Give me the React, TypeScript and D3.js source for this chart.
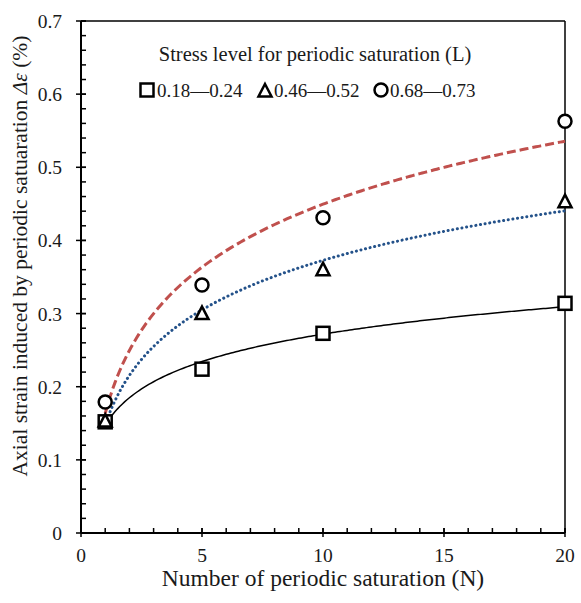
import React from "react";
import * as d3 from "d3";

// Periodic saturation counts and measured axial strain (%) for each stress level
const cycles = [1, 5, 10, 20];
const lowStress = [0.152, 0.224, 0.273, 0.314];
const midStress = [0.153, 0.3, 0.36, 0.453];
const highStress = [0.179, 0.339, 0.431, 0.563];
const seriesLabels = ["0.18\u20140.24", "0.46\u20140.52", "0.68\u20140.73"];

const xTicks = [0, 5, 10, 15, 20];
const yTicks = [0, 0.1, 0.2, 0.3, 0.4, 0.5, 0.6, 0.7];

const W = 581;
const H = 603;
const margin = { left: 81, right: 16, top: 21, bottom: 70 };
const FONT = "'Liberation Serif', 'Times New Roman', serif";
const TEXT = "#1a1a1a";

// Least-squares logarithmic trend y = a ln(x) + b
function logFit(xs: number[], ys: number[]) {
  const lx = xs.map((x) => Math.log(x));
  const mx = d3.mean(lx)!;
  const my = d3.mean(ys)!;
  let sxy = 0;
  let sxx = 0;
  lx.forEach((v, i) => {
    sxy += (v - mx) * (ys[i] - my);
    sxx += (v - mx) * (v - mx);
  });
  const a = sxy / sxx;
  const b = my - a * mx;
  return (x: number) => a * Math.log(x) + b;
}

export default function App() {
  const x = d3.scaleLinear().domain([0, 20]).range([margin.left, W - margin.right]);
  const y = d3.scaleLinear().domain([0, 0.7]).range([H - margin.bottom, margin.top]);
  const x0 = x(0);
  const y0 = y(0);
  const xr = x(20);
  const yt = y(0.7);

  const trendX = d3.range(1, 20.001, 0.1);
  const line = (f: (v: number) => number) =>
    d3
      .line<number>()
      .x((d) => x(d))
      .y((d) => y(f(d)))(trendX) as string;

  const fLow = logFit(cycles, lowStress);
  const fMid = logFit(cycles, midStress);
  const fHigh = logFit(cycles, highStress);

  const xMinor = d3.range(0, 21, 1);
  const yMinor = d3.range(0, 0.7001, 0.02);

  const square = (cx: number, cy: number, key: string) => (
    <rect key={key} x={cx - 6.5} y={cy - 6.5} width={13} height={13} fill="white" stroke="black" strokeWidth={2.5} />
  );
  const triangle = (cx: number, cy: number, key: string) => (
    <path
      key={key}
      d={`M${cx},${cy - 7} L${cx + 6.5},${cy + 5.5} L${cx - 6.5},${cy + 5.5} Z`}
      fill="white"
      stroke="black"
      strokeWidth={2.5}
      strokeLinejoin="miter"
    />
  );
  const circle = (cx: number, cy: number, key: string) => (
    <circle key={key} cx={cx} cy={cy} r={6.5} fill="white" stroke="black" strokeWidth={2.5} />
  );

  return (
    <svg
      width={W}
      height={H}
      style={{ position: "absolute", left: 0, top: 0, background: "white" }}
      fontFamily={FONT}
    >
      <rect x={0} y={0} width={W} height={H} fill="white" />

      {/* frame */}
      <line x1={x0} x2={xr} y1={yt} y2={yt} stroke="black" strokeWidth={1.5} />
      <line x1={xr} x2={xr} y1={yt} y2={y0} stroke="black" strokeWidth={1.5} />

      {/* minor ticks */}
      {xMinor.map((v) => (
        <line key={"xm" + v} x1={x(v)} x2={x(v)} y1={y0} y2={y0 - 5} stroke="black" strokeWidth={1.5} />
      ))}
      {yMinor.map((v, i) => (
        <line key={"ym" + i} x1={x0} x2={x0 + 5} y1={y(v)} y2={y(v)} stroke="black" strokeWidth={1.5} />
      ))}
      {/* major ticks */}
      {xTicks.map((v) => (
        <line key={"xM" + v} x1={x(v)} x2={x(v)} y1={y0 + 4} y2={y0 - 5} stroke="black" strokeWidth={1.5} />
      ))}
      {yTicks.map((v) => (
        <line key={"yM" + v} x1={x0 - 5} x2={x0 + 5} y1={y(v)} y2={y(v)} stroke="black" strokeWidth={1.5} />
      ))}

      {/* axes */}
      <line x1={x0} x2={xr} y1={y0} y2={y0} stroke="black" strokeWidth={2} />
      <line x1={x0} x2={x0} y1={yt} y2={y0} stroke="black" strokeWidth={2} />

      {/* tick labels */}
      {xTicks.map((v) => (
        <text key={"xl" + v} x={x(v)} y={y0 + 29} textAnchor="middle" fontSize={19.5} fill={TEXT}>
          {v}
        </text>
      ))}
      {yTicks.map((v) => (
        <text key={"yl" + v} x={x0 - 19} y={y(v) + 7} textAnchor="end" fontSize={19.5} fill={TEXT}>
          {v === 0 ? "0" : v.toFixed(1)}
        </text>
      ))}

      {/* axis titles */}
      <text x={323} y={H - 17} textAnchor="middle" fontSize={23.5} fill={TEXT}>
        Number of periodic saturation (N)
      </text>
      <text
        transform={`translate(27, 256) rotate(-90)`}
        textAnchor="middle"
        fontSize={21.5}
        fill={TEXT}
      >
        Axial strain induced by periodic satuaration <tspan fontStyle="italic">{"\u0394\u03b5"}</tspan> (%)
      </text>

      {/* trend lines */}
      <path d={line(fLow)} fill="none" stroke="black" strokeWidth={1.5} />
      <path
        d={line(fMid)}
        fill="none"
        stroke="#24528a"
        strokeWidth={3}
        strokeDasharray="0.1 4.6"
        strokeLinecap="round"
      />
      <path d={line(fHigh)} fill="none" stroke="#c0504d" strokeWidth={3} strokeDasharray="9 4" />

      {/* measured points */}
      {cycles.map((c, i) => square(x(c), y(lowStress[i]), "s" + i))}
      {cycles.map((c, i) => triangle(x(c), y(midStress[i]), "t" + i))}
      {cycles.map((c, i) => circle(x(c), y(highStress[i]), "c" + i))}

      {/* legend */}
      <text x={315} y={61} textAnchor="middle" fontSize={20.5} fill={TEXT}>
        Stress level for periodic saturation (L)
      </text>
      {square(147, 90, "ls")}
      <text x={157} y={97} fontSize={19} fill={TEXT}>
        {seriesLabels[0]}
      </text>
      {triangle(265, 91, "lt")}
      <text x={274} y={97} fontSize={19} fill={TEXT}>
        {seriesLabels[1]}
      </text>
      {circle(381, 90, "lc")}
      <text x={390} y={97} fontSize={19} fill={TEXT}>
        {seriesLabels[2]}
      </text>
    </svg>
  );
}
